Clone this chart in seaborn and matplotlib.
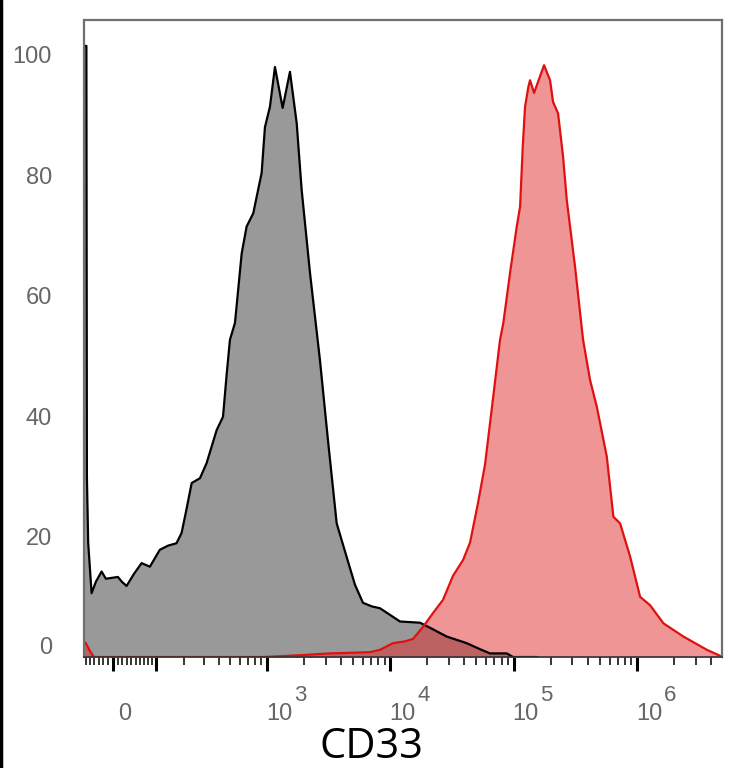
import numpy as np
import pandas as pd
import seaborn as sns
import matplotlib
matplotlib.use("Agg")
import matplotlib.pyplot as plt
from matplotlib.transforms import ScaledTranslation
from matplotlib.lines import Line2D

# CD33 intensity (bin centres) and % of max
gray_x = [-64, -58.2, -57.0, -54.0, -46.1, -36.5, -24.0, -14.8, -6.3, 10.6, 19.1, 29.2,
          45.5, 63.5, 84.4, 112, 138, 168, 188, 206, 233, 276, 315, 384, 434, 466, 496,
          546, 620, 681, 772, 904, 962, 1057, 1161, 1341, 1538, 1744, 1914, 2237, 2695,
          3130, 3683, 4439, 5183, 6018, 7121, 8269, 9965, 12010, 17450, 22240, 28730,
          41730, 53500, 64470, 88030, 99040, 155000]
gray_y = [101.5, 101.5, 30, 19, 10.6, 12.5, 14.2, 13, 13.1, 13.3, 12.5, 11.8, 13.8, 15.6,
          15, 17.8, 18.5, 18.9, 20.6, 24, 28.9, 29.7, 32.2, 37.7, 39.9, 47, 52.7, 55.5, 67,
          71.5, 73.7, 80.4, 88, 91.4, 98, 91.2, 97.2, 88.7, 77.6, 63.8, 49.3, 36, 22.2, 16.6,
          12, 9, 8.4, 8.1, 7, 5.9, 5.7, 4.6, 3.4, 2.3, 1.3, 0.6, 0.6, 0, 0]

red_x = [-64, -59.4, -50.0, -40.9, 944, 1855, 3249, 4722, 6859, 8269, 10540, 13190, 15310,
         18450, 22240, 26810, 32320, 38950, 44390, 51540, 58760, 66950, 77740, 82670, 93670,
         106200, 113000, 118800, 124000, 131900, 136100, 146700, 176800, 197700, 209100,
         229600, 252100, 270100, 315300, 366100, 417200, 472900, 570000, 644700, 730500,
         880800, 1061600, 1279700, 1640200, 2382600, 3689500, 4726000]
red_y = [2.5, 2.3, 1.0, 0, 0, 0.3, 0.6, 0.7, 0.8, 1.2, 2.3, 2.6, 3.0, 5.0, 7.3, 9.5, 13.5,
         16.1, 19, 25.6, 32, 41.6, 52.7, 55.5, 63.8, 71.5, 74.8, 84.8, 91.4, 94.7, 95.8,
         93.7, 98.3, 95.8, 92.2, 90.3, 83.1, 75.9, 64.8, 52.7, 46, 41.6, 33.3, 23.3, 22.2,
         16.7, 10, 8.6, 5.6, 3.4, 1.2, 0.2]

major_ticks = [0, 100, 1e3, 1e4, 1e5, 1e6]
major_labels = ["0", "", "10", "10", "10", "10"]
exponents = {1e3: "3", 1e4: "4", 1e5: "5", 1e6: "6"}
y_ticks = [0, 20, 40, 60, 80, 100]

gray_df = pd.DataFrame({"CD33": gray_x, "count": gray_y})
red_df = pd.DataFrame({"CD33": red_x, "count": red_y})

sns.set_style("white")
plt.rcParams["font.family"] = ["Liberation Sans", "DejaVu Sans"]

fig = plt.figure(figsize=(7.34, 7.68), dpi=100)
ax = fig.add_axes([0.1144, 0.1445, 0.8693, 0.8294])

ax.fill_between(gray_df["CD33"], gray_df["count"], 0, color="#999999", lw=0, zorder=1)
ax.fill_between(red_df["CD33"], red_df["count"], 0, color="#e12d2d", alpha=0.5, lw=0, zorder=1.1)
sns.lineplot(data=gray_df, x="CD33", y="count", color="black", lw=1.6, sort=False,
             estimator=None, ax=ax, zorder=2)
sns.lineplot(data=red_df, x="CD33", y="count", color="#e01010", lw=1.6, sort=False,
             estimator=None, ax=ax, zorder=2.1)

# biexponential-like display (arcsinh)
cof = 113.0
ax.set_xscale("function", functions=(lambda v: np.arcsinh(np.asarray(v) / cof),
                                     lambda v: cof * np.sinh(np.asarray(v))))
ax.set_xlim(-64, 4.9e6)
ax.set_ylim(0, 105.8)

minor = [v for v in range(-60, 100, 10) if v != 0]
for d in [100, 1000, 10000, 100000, 1000000]:
    minor += [d * k for k in range(2, 10) if d * k < 4.9e6]
ax.set_xticks(major_ticks)
ax.set_xticklabels(major_labels)
ax.set_xticks(minor, minor=True)
ax.set_yticks(y_ticks)
ax.set_yticklabels([str(v) for v in y_ticks])

ax.tick_params(axis="x", which="major", direction="out", length=10, width=2.2,
               color="black", pad=23, labelsize=17, labelcolor="#666666")
ax.tick_params(axis="x", which="minor", direction="out", length=5.5, width=1.1,
               color="black")
ax.tick_params(axis="y", length=0, pad=23, labelsize=17, labelcolor="#666666")
ax.tick_params(bottom=True, which="both")

shift_x = ScaledTranslation(12 / 100, 0, fig.dpi_scale_trans)
for lab in ax.get_xticklabels():
    lab.set_transform(lab.get_transform() + shift_x)
zero_lab = ax.get_yticklabels()[0]
zero_lab.set_transform(zero_lab.get_transform() + ScaledTranslation(0, 12 / 100, fig.dpi_scale_trans))

for val, txt in exponents.items():
    ax.annotate(txt, xy=(val, 0), xycoords=("data", "axes fraction"),
                xytext=(23.8, -27.4), textcoords="offset points",
                ha="center", va="center", fontsize=16, color="#666666")

ax.set_xlabel("CD33", fontsize=30, family=["Open Sans", "DejaVu Sans"],
              color="black", va="baseline")
ax.xaxis.set_label_coords(0.451, -0.1586)
ax.set_ylabel("")

for side in ["top", "right", "left"]:
    ax.spines[side].set_color("#707070")
    ax.spines[side].set_linewidth(1.6)
ax.spines["bottom"].set_color("#333333")
ax.spines["bottom"].set_linewidth(1.2)

fig.add_artist(Line2D([0.002, 0.002], [0, 1], color="black", lw=2.5, transform=fig.transFigure))

fig.savefig("out.png", dpi=100)
